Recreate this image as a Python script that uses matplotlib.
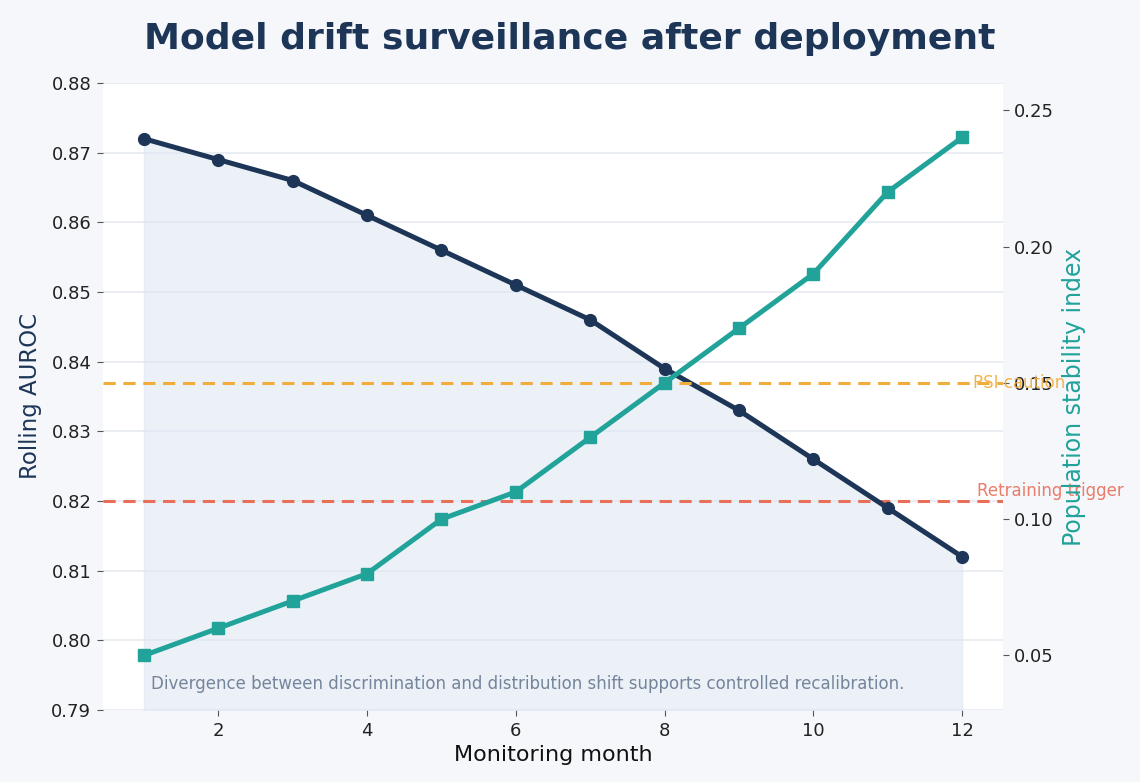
import numpy as np
import matplotlib
matplotlib.use('Agg')
import matplotlib.pyplot as plt

plt.rcParams['font.family'] = ['DejaVu Sans']

months = [1, 2, 3, 4, 5, 6, 7, 8, 9, 10, 11, 12]
auroc = [0.872, 0.869, 0.866, 0.861, 0.856, 0.851, 0.846, 0.839, 0.833, 0.826, 0.819, 0.812]
psi = [0.05, 0.06, 0.07, 0.08, 0.10, 0.11, 0.13, 0.15, 0.17, 0.19, 0.22, 0.24]
psi_caution = 0.15
retrain_trigger = 0.82

navy = '#1d3557'
teal = '#21a39a'
amber = '#f0ad3c'
coral = '#e86f5a'

fig = plt.figure(figsize=(11.4, 7.82), dpi=100, facecolor='#f5f7fb')
ax = fig.add_axes([0.0904, 0.0921, 0.7894, 0.8018])
ax.set_facecolor('white')

ax.fill_between(months, auroc, 0.79, color='#dde6f3', alpha=0.55, zorder=1)
ax.plot(months, auroc, color=navy, lw=3.6, marker='o', ms=8.5, zorder=3)
ax.axhline(retrain_trigger, color=coral, lw=2.2, ls='--', dashes=(4, 2.5), zorder=2)

ax.set_xlim(0.45, 12.55)
ax.set_ylim(0.79, 0.88)
ax.set_yticks(np.arange(0.79, 0.8801, 0.01))
ax.set_xticks([2, 4, 6, 8, 10, 12])
ax.grid(axis='y', color='#e6eaf0', lw=1.2)
ax.set_axisbelow(True)
for s in ax.spines.values():
    s.set_visible(False)
ax.tick_params(labelsize=13, colors='#222222', length=4, color='#555555', pad=4.5)
ax.set_xlabel('Monitoring month', fontsize=16, color='#111111')
ax.set_ylabel('Rolling AUROC', fontsize=16.5, color=navy, labelpad=7)

ax2 = ax.twinx()
ax2.plot(months, psi, color=teal, lw=3.6, marker='s', ms=8.5, zorder=4)
ax2.axhline(psi_caution, color=amber, lw=2.2, ls='--', dashes=(4, 2.5), zorder=2)
ax2.set_ylim(0.03, 0.26)
ax2.set_yticks([0.05, 0.10, 0.15, 0.20, 0.25])
for s in ax2.spines.values():
    s.set_visible(False)
ax2.tick_params(labelsize=13, colors='#222222', length=4, color='#555555')
ax2.set_ylabel('Population stability index', fontsize=17, color=teal, labelpad=6)

ax2.text(12.15, psi_caution, 'PSI caution', color=amber, fontsize=12, va='center', ha='left', alpha=0.9)
ax.text(12.2, retrain_trigger + 0.0002, 'Retraining trigger', color=coral, fontsize=12, va='bottom', ha='left', alpha=0.9)

ax.text(1.1, 0.7938, 'Divergence between discrimination and distribution shift supports controlled recalibration.',
        fontsize=12, color='#74849a', va='center', ha='left')

fig.suptitle('Model drift surveillance after deployment', fontsize=26, fontweight='bold', color=navy, y=0.972)

fig.savefig('out.png', dpi=100, facecolor=fig.get_facecolor())
